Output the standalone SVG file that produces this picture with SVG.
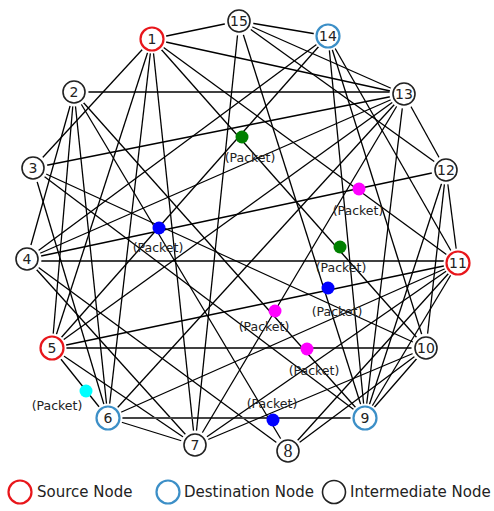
<svg xmlns="http://www.w3.org/2000/svg" width="494" height="511" viewBox="0 0 494 511">
<style>
.e line{stroke:#000;stroke-width:1.3}
.e .thick{stroke:#444;stroke-width:2.2}
.halo{fill:#fff}
.n{fill:#fff;stroke:#222;stroke-width:1.6}
.src{fill:#fff;stroke:#e8161b;stroke-width:2.2}
.dst{fill:#fff;stroke:#3c8fc7;stroke-width:2.2}
.t{font-family:"DejaVu Sans",Verdana,sans-serif;font-size:14px;text-anchor:middle;fill:#222}
.ts{font-family:"Liberation Serif","Times New Roman",serif;font-size:18px;text-anchor:middle;fill:#222}
.p{font-family:"DejaVu Sans",Verdana,sans-serif;font-size:12.5px;text-anchor:middle;fill:#222}
.lg{font-family:"DejaVu Sans",Verdana,sans-serif;font-size:15px;fill:#222}
</style>
<g id="connectors" class="e">
<line x1="152" y1="39" x2="239" y2="21"/>
<line x1="152" y1="39" x2="404" y2="94"/>
<line x1="152" y1="39" x2="458" y2="263"/>
<line x1="152" y1="39" x2="426" y2="348"/>
<line x1="152" y1="39" x2="52" y2="348"/>
<line x1="152" y1="39" x2="108" y2="418"/>
<line x1="152" y1="39" x2="195" y2="445"/>
<line x1="152" y1="39" x2="33" y2="168"/>
<line x1="74" y1="92" x2="404" y2="92"/>
<line x1="74" y1="92" x2="27" y2="259"/>
<line x1="74" y1="92" x2="52" y2="348"/>
<line x1="74" y1="92" x2="108" y2="418"/>
<line x1="74" y1="92" x2="288" y2="451"/>
<line x1="74" y1="92" x2="365" y2="418"/>
<line x1="33" y1="168" x2="404" y2="94"/>
<line x1="33" y1="168" x2="108" y2="418"/>
<line x1="33" y1="168" x2="365" y2="418"/>
<line x1="33" y1="168" x2="426" y2="348"/>
<line x1="27" y1="259" x2="328" y2="36"/>
<line x1="27" y1="259" x2="404" y2="94"/>
<line x1="27" y1="259" x2="446" y2="170"/>
<line x1="27" y1="261" x2="458" y2="261"/>
<line x1="27" y1="259" x2="288" y2="451"/>
<line x1="27" y1="259" x2="195" y2="445"/>
<line x1="52" y1="348" x2="404" y2="94"/>
<line x1="52" y1="348" x2="328" y2="36"/>
<line x1="52" y1="348" x2="458" y2="263"/>
<line x1="52" y1="348" x2="426" y2="348"/>
<line x1="52" y1="348" x2="108" y2="418"/>
<line x1="52" y1="348" x2="195" y2="445"/>
<line x1="108" y1="418" x2="404" y2="94"/>
<line x1="108" y1="418" x2="458" y2="263"/>
<line class="thick" x1="108" y1="418" x2="365" y2="418"/>
<line x1="108" y1="418" x2="195" y2="445"/>
<line x1="195" y1="445" x2="239" y2="21"/>
<line x1="195" y1="445" x2="404" y2="94"/>
<line x1="195" y1="445" x2="426" y2="348"/>
<line x1="195" y1="445" x2="458" y2="263"/>
<line x1="288" y1="451" x2="458" y2="263"/>
<line x1="288" y1="451" x2="426" y2="348"/>
<line x1="365" y1="418" x2="239" y2="21"/>
<line x1="365" y1="418" x2="328" y2="36"/>
<line x1="365" y1="418" x2="404" y2="94"/>
<line x1="365" y1="418" x2="446" y2="170"/>
<line x1="365" y1="418" x2="458" y2="263"/>
<line x1="365" y1="418" x2="426" y2="348"/>
<line x1="426" y1="348" x2="328" y2="36"/>
<line x1="426" y1="348" x2="446" y2="170"/>
<line x1="458" y1="263" x2="328" y2="36"/>
<line x1="458" y1="263" x2="446" y2="170"/>
<line x1="446" y1="170" x2="239" y2="21"/>
<line x1="446" y1="170" x2="404" y2="94"/>
<line x1="404" y1="94" x2="239" y2="21"/>
<line x1="328" y1="36" x2="239" y2="21"/>
</g>
<g id="packets">
<circle cx="242" cy="137" r="6.5" fill="#008000"/>
<text class="p" x="250" y="162">(Packet)</text>
<circle cx="340" cy="247" r="6.5" fill="#008000"/>
<text class="p" x="341" y="272">(Packet)</text>
<circle cx="359" cy="189" r="6.5" fill="#ff00ff"/>
<text class="p" x="358" y="215">(Packet)</text>
<circle cx="275" cy="311" r="6.5" fill="#ff00ff"/>
<text class="p" x="264" y="331">(Packet)</text>
<circle cx="307" cy="349" r="6.5" fill="#ff00ff"/>
<text class="p" x="314" y="375">(Packet)</text>
<circle cx="159" cy="228" r="6.5" fill="#0000ff"/>
<text class="p" x="158" y="252">(Packet)</text>
<circle cx="328" cy="288" r="6.5" fill="#0000ff"/>
<text class="p" x="337" y="316">(Packet)</text>
<circle cx="273" cy="420" r="6.5" fill="#0000ff"/>
<text class="p" x="272" y="408">(Packet)</text>
<circle cx="86" cy="391" r="6.5" fill="#00ffff"/>
<text class="p" x="57" y="410">(Packet)</text>
</g>
<g id="node1"><circle class="halo" cx="152" cy="39" r="14.5"/><circle class="src" cx="152" cy="39" r="11.5"/><text class="t" x="152" y="44">1</text></g>
<g id="node2"><circle class="halo" cx="74" cy="92" r="14.5"/><circle class="n" cx="74" cy="92" r="11"/><text class="t" x="74" y="97">2</text></g>
<g id="node3"><circle class="halo" cx="33" cy="168" r="14.5"/><circle class="n" cx="33" cy="168" r="11"/><text class="t" x="33" y="173">3</text></g>
<g id="node4"><circle class="halo" cx="27" cy="259" r="14.5"/><circle class="n" cx="27" cy="259" r="11"/><text class="t" x="27" y="264">4</text></g>
<g id="node5"><circle class="halo" cx="52" cy="348" r="14.5"/><circle class="src" cx="52" cy="348" r="11.5"/><text class="t" x="52" y="353">5</text></g>
<g id="node6"><circle class="halo" cx="108" cy="418" r="14.5"/><circle class="dst" cx="108" cy="418" r="11.5"/><text class="t" x="108" y="423">6</text></g>
<g id="node7"><circle class="halo" cx="195" cy="445" r="14.5"/><circle class="n" cx="195" cy="445" r="11"/><text class="t" x="195" y="450">7</text></g>
<g id="node8"><circle class="halo" cx="288" cy="451" r="14.5"/><circle class="n" cx="288" cy="451" r="11"/><text class="ts" x="288" y="457">8</text></g>
<g id="node9"><circle class="halo" cx="365" cy="418" r="14.5"/><circle class="dst" cx="365" cy="418" r="11.5"/><text class="t" x="365" y="423">9</text></g>
<g id="node10"><circle class="halo" cx="426" cy="348" r="14.5"/><circle class="n" cx="426" cy="348" r="11"/><text class="t" x="426" y="353">10</text></g>
<g id="node11"><circle class="halo" cx="458" cy="263" r="14.5"/><circle class="src" cx="458" cy="263" r="11.5"/><text class="t" x="458" y="268">11</text></g>
<g id="node12"><circle class="halo" cx="446" cy="170" r="14.5"/><circle class="n" cx="446" cy="170" r="11"/><text class="t" x="446" y="175">12</text></g>
<g id="node13"><circle class="halo" cx="404" cy="94" r="14.5"/><circle class="n" cx="404" cy="94" r="11"/><text class="t" x="404" y="99">13</text></g>
<g id="node14"><circle class="halo" cx="328" cy="36" r="14.5"/><circle class="dst" cx="328" cy="36" r="11.5"/><text class="t" x="328" y="41">14</text></g>
<g id="node15"><circle class="halo" cx="239" cy="21" r="14.5"/><circle class="n" cx="239" cy="21" r="11"/><text class="t" x="239" y="26">15</text></g>
<g id="legend">
<circle class="src" cx="20" cy="492" r="11.5"/>
<text class="lg" x="37" y="497">Source Node</text>
<circle class="dst" cx="168" cy="492" r="11.5"/>
<text class="lg" x="184" y="497">Destination Node</text>
<circle class="n" cx="334" cy="492" r="11.5"/>
<text class="lg" x="350" y="497">Intermediate Node</text>
</g>
</svg>
